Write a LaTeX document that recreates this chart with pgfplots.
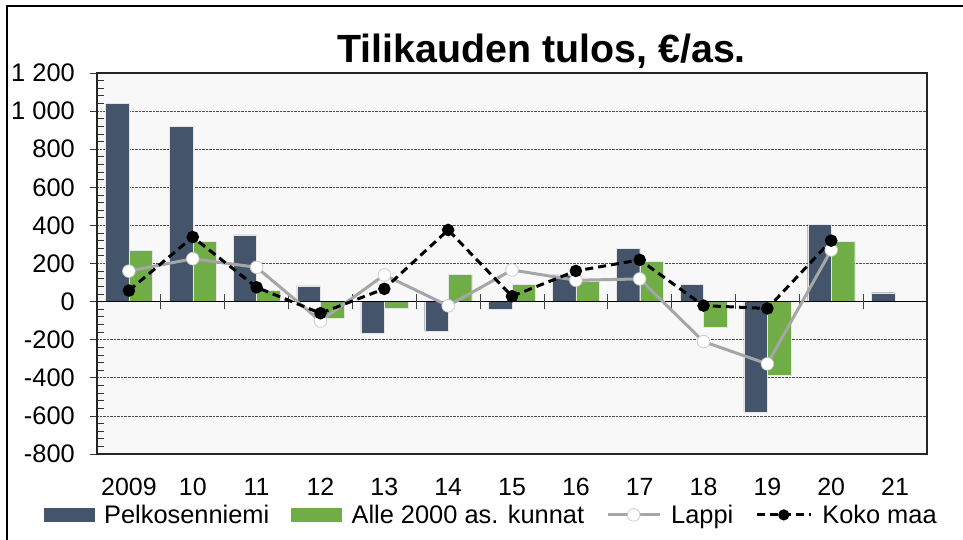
\documentclass[border=0pt]{standalone}
\usepackage{pgfplots}
\pgfplotsset{compat=1.18}
\usepackage{fontspec}
\setmainfont{Liberation Sans}
\definecolor{pelko}{HTML}{44546A}
\definecolor{alle}{HTML}{70AD47}
\definecolor{lappi}{HTML}{A6A6A6}
\definecolor{plotbg}{HTML}{F8F8F8}
\begin{document}
\begin{tikzpicture}
\useasboundingbox (0bp,0bp) rectangle (963bp,-540bp);
\draw[black, line width=1.2bp] (7bp,-560bp) -- (7bp,-6bp) -- (980bp,-6bp);
\node[anchor=base, font=\bfseries\fontsize{39.5}{46}\selectfont] at (541.7bp,-62bp) {Tilikauden tulos, €/as.};
\begin{axis}[
  at={(97bp,-454bp)}, anchor=south west,
  scale only axis, width=830bp, height=381bp,
  xmin=-0.5, xmax=12.5, ymin=-800, ymax=1200,
  axis background/.style={fill=plotbg},
  axis line style={draw=black!85, line width=1.2bp},
  xtick={0,...,12},
  xticklabels={2009,10,11,12,13,14,15,16,17,18,19,20,21},
  xtick style={draw=none},
  xticklabel style={anchor=base, yshift=-41bp, inner sep=0pt, font=\fontsize{25}{30}\selectfont},
  ytick={-800,-600,...,1200},
  yticklabels={-800,-600,-400,-200,0,200,400,600,800,1 000,1 200},
  yticklabel style={anchor=east, xshift=-22bp, inner sep=0pt, font=\fontsize{25.5}{30}\selectfont},
  minor y tick num=4,
  tick align=inside,
  major tick length=-7bp,
  minor tick length=7bp,
  ytick pos=left,
  ytick style={draw=black!80, line width=0.8bp},
  ymajorgrids,
  major grid style={densely dotted, draw=black!70, line width=0.8bp},
  minor grid style={draw=none},
  clip=false,
  legend columns=4,
  legend style={at={(0.475,-0.128)}, anchor=north, draw=none, fill=none,
    font=\fontsize{25.5}{30}\selectfont, inner sep=0pt,
    /tikz/every odd column/.append style={column sep=8bp},
    /tikz/every even column/.append style={column sep=20bp}},
  legend cell align=left,
]
\addplot[ybar, bar width=23.5bp, bar shift=-11.75bp, fill=pelko, draw=white!90!black, line width=0.3bp,
  legend image code/.code={\fill[pelko] (0bp,-6.35bp) rectangle (50bp,6.35bp);}]
  coordinates {(0,1040) (1,920) (2,350) (3,82) (4,-165) (5,-155) (6,-38) (7,140) (8,280) (9,92) (10,-580) (11,405) (12,47)};
\addlegendentry{Pelkosenniemi}
\addplot[ybar, bar width=23.5bp, bar shift=11.75bp, fill=alle, draw=white!90!black, line width=0.3bp,
  legend image code/.code={\fill[alle] (0bp,-6.35bp) rectangle (50bp,6.35bp);}]
  coordinates {(0,268) (1,315) (2,58) (3,-88) (4,-34) (5,142) (6,91) (7,106) (8,213) (9,-135) (10,-388) (11,318)};
\addlegendentry{Alle 2000 as. kunnat}
\draw[black, line width=1.2bp] (axis cs:-0.5,0) -- (axis cs:12.5,0);
\pgfplotsinvokeforeach{0.5,1.5,...,11.5}{\draw[black!75, line width=0.8bp] (axis cs:#1,-40) -- (axis cs:#1,40);}
\addplot[lappi, line width=3bp, mark=*, mark size=6.3bp, mark options={fill=white, draw=white!80!black, line width=0.8bp},
  legend image code/.code={\draw[mark repeat=2,mark phase=2] plot coordinates {(0bp,0bp) (26bp,0bp) (52bp,0bp)};}]
  coordinates {(0,160) (1,225) (2,180) (3,-102) (4,140) (5,-22) (6,166) (7,112) (8,119) (9,-210) (10,-327) (11,271)};
\addlegendentry{Lappi}
\addplot[black, line width=3bp, dash pattern=on 8bp off 5bp, mark=*, mark size=4.7bp, mark options={solid, fill=black},
  legend image code/.code={\draw[mark repeat=2,mark phase=2, mark size=4bp] plot coordinates {(0bp,0bp) (27bp,0bp) (54bp,0bp)};}]
  coordinates {(0,58) (1,339) (2,75) (3,-61) (4,67) (5,376) (6,28) (7,161) (8,219) (9,-21) (10,-36) (11,320)};
\addlegendentry{Koko maa}
\end{axis}
\end{tikzpicture}
\end{document}
